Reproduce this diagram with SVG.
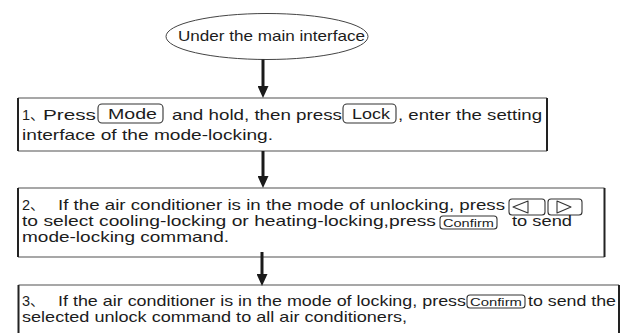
<svg xmlns="http://www.w3.org/2000/svg" width="622" height="333" viewBox="0 0 622 333">
<defs>
<style>
.t{font-family:"Liberation Sans","Noto Sans CJK SC",Arial,sans-serif;font-size:14.5px;fill:#1c1c1c}
.s{font-family:"Liberation Sans",Arial,sans-serif;font-size:10.5px;fill:#1c1c1c}
.btn{fill:none;stroke:#333;stroke-width:1.1}
.tri{fill:none;stroke:#333;stroke-width:1.1;stroke-linejoin:round}
.tb{stroke:#8a8a8a;stroke-width:1.6;fill:none}
.sd{stroke:#222;stroke-width:2;fill:none}
.arr{stroke:#1a1a1a;stroke-width:3;fill:none}
</style>
<marker id="ah" viewBox="0 0 12 11" refX="0" refY="5.5" markerWidth="12" markerHeight="11" markerUnits="userSpaceOnUse" orient="auto">
<path d="M0,0 L12,5.5 L0,11 z" fill="#1a1a1a"/>
</marker>
</defs>
<rect width="622" height="333" fill="#fff"/>

<g id="start">
<ellipse cx="267" cy="36.5" rx="101" ry="23" fill="none" stroke="#444" stroke-width="1"/>
<text class="t" x="178" y="40.5" font-size="15" textLength="187" lengthAdjust="spacingAndGlyphs">Under the main interface</text>
</g>

<g id="step1">
<path class="tb" d="M18,98 H547 M18,151 H547"/>
<path class="sd" d="M18,98 V151 M547,98 V151"/>
<text class="t" x="22" y="120">1、</text>
<text class="t" x="43" y="120" textLength="53" lengthAdjust="spacingAndGlyphs">Press</text>
<rect class="btn" x="98" y="104" width="65" height="19" rx="4"/>
<text class="t" x="108" y="119" textLength="49" lengthAdjust="spacingAndGlyphs">Mode</text>
<text class="t" x="172" y="120" textLength="170" lengthAdjust="spacingAndGlyphs">and hold, then press</text>
<rect class="btn" x="343" y="104" width="53" height="19" rx="4"/>
<text class="t" x="352" y="119" font-size="13" textLength="38" lengthAdjust="spacingAndGlyphs">Lock</text>
<text class="t" x="398" y="120" textLength="144" lengthAdjust="spacingAndGlyphs">, enter the setting</text>
<text class="t" x="22" y="139.5" textLength="251" lengthAdjust="spacingAndGlyphs">interface of the mode-locking.</text>
</g>

<g id="step2">
<path class="tb" d="M18,188 H604.5 M18,257 H604.5"/>
<path class="sd" d="M18,188 V257 M604.5,188 V257"/>
<text class="t" x="22" y="210">2、</text>
<text class="t" x="58" y="210" textLength="447" lengthAdjust="spacingAndGlyphs">If the air conditioner is in the mode of unlocking, press</text>
<rect class="btn" x="509" y="199" width="36" height="16" rx="3"/>
<polygon class="tri" points="513,207 528,201 528,213"/>
<rect class="btn" x="548" y="199" width="34" height="16" rx="3"/>
<polygon class="tri" points="557,201 557,213 571,207"/>
<text class="t" x="22" y="226" textLength="414" lengthAdjust="spacingAndGlyphs">to select cooling-locking or heating-locking,press</text>
<rect class="btn" x="440" y="216" width="57" height="13" rx="3"/>
<text class="s" x="443" y="226.5" textLength="51" lengthAdjust="spacingAndGlyphs">Confirm</text>
<text class="t" x="512" y="226" textLength="60" lengthAdjust="spacingAndGlyphs">to send</text>
<text class="t" x="22" y="242" textLength="207" lengthAdjust="spacingAndGlyphs">mode-locking command.</text>
</g>

<g id="step3">
<path class="tb" d="M18.5,285 H619"/>
<path class="sd" d="M18.5,285 V340 M619,285 V340"/>
<text class="t" x="22" y="305.5">3、</text>
<text class="t" x="58" y="305.5" textLength="408" lengthAdjust="spacingAndGlyphs">If the air conditioner is in the mode of locking, press</text>
<rect class="btn" x="467" y="295" width="58" height="13" rx="3"/>
<text class="s" x="470" y="305.5" textLength="52" lengthAdjust="spacingAndGlyphs">Confirm</text>
<text class="t" x="528" y="305.5" textLength="88" lengthAdjust="spacingAndGlyphs">to send the</text>
<text class="t" x="22" y="322" textLength="385" lengthAdjust="spacingAndGlyphs">selected unlock command to all air conditioners,</text>
</g>

<g id="connectors">
<line class="arr" x1="263" y1="59.5" x2="263" y2="86" marker-end="url(#ah)"/>
<line class="arr" x1="263" y1="151" x2="263" y2="176" marker-end="url(#ah)"/>
<line class="arr" x1="262" y1="252" x2="262" y2="274" marker-end="url(#ah)"/>
</g>
</svg>
